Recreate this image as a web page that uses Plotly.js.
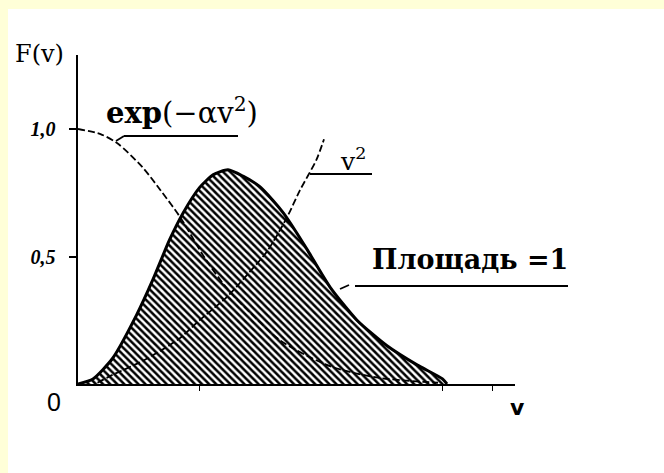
<!DOCTYPE html>
<html>
<head>
<meta charset="utf-8">
<script src="https://cdn.plot.ly/plotly-3.0.1.min.js"></script>
<style>
  html, body { margin: 0; padding: 0; background: #FFFFD8; }
  #chart { position: absolute; left: 8px; top: 9px; width: 656px; height: 464px; background: #ffffff; }
</style>
</head>
<body>
<div id="chart"></div>
<script>
// Maxwell speed distribution F(v) (hatched, area = 1)
const vMaxwell = [0, 0.10, 0.23, 0.39, 0.50, 0.61, 0.70, 0.81, 0.90, 1.00, 1.10, 1.21, 1.30, 1.37, 1.45, 1.53, 1.68, 1.86, 2.06, 2.26, 2.43, 2.46];
const fMaxwell = [0, 0.02, 0.10, 0.27, 0.41, 0.565, 0.67, 0.77, 0.82, 0.84, 0.815, 0.775, 0.72, 0.67, 0.60, 0.525, 0.38, 0.25, 0.15, 0.075, 0.02, 0];

// Gaussian factor exp(-αv²)
const vExp = [0, 0.15, 0.26, 0.43, 0.55, 0.68, 0.85, 1.00, 1.20, 1.35, 1.68, 2.00, 2.40];
const fExp = [1.0, 0.98, 0.945, 0.85, 0.76, 0.655, 0.49, 0.37, 0.25, 0.17, 0.07, 0.025, 0.005];

// Phase-space factor v²
const vSq = [0.13, 0.21, 0.43, 0.55, 0.68, 0.81, 0.99, 1.13, 1.26, 1.39, 1.48, 1.59, 1.64];
const fSq = [0.005, 0.03, 0.09, 0.13, 0.18, 0.25, 0.34, 0.43, 0.52, 0.65, 0.76, 0.88, 0.96];

// Axis ticks
const yTickVals = [0.5, 1.0];
const yTickText = ['0,5', '1,0'];
const xTickVals = [0.81, 2.43, 2.76];

// Plot frame in pixels of the chart div
const W = 656, H = 464;
const M = { l: 70, r: 149, t: 46, b: 89 };
const PW = W - M.l - M.r, PH = H - M.t - M.b;
// pixel position inside the div -> paper coordinates
const px = x => (x - M.l) / PW;
const py = y => (H - M.b - y) / PH;

const serif = 'DejaVu Serif, serif';

const traces = [
  {
    x: vMaxwell, y: fMaxwell, type: 'scatter', mode: 'lines',
    line: { color: '#000', width: 3, shape: 'spline', smoothing: 0.6 },
    fill: 'tozeroy', fillcolor: '#ffffff',
    fillpattern: { shape: '\\', fgcolor: '#000', bgcolor: '#ffffff', size: 5, solidity: 0.5 },
    hoverinfo: 'skip'
  },
  {
    x: vExp, y: fExp, type: 'scatter', mode: 'lines',
    line: { color: '#000', width: 1.8, dash: '7px,3px', shape: 'spline', smoothing: 0.8 },
    hoverinfo: 'skip'
  },
  {
    x: vSq, y: fSq, type: 'scatter', mode: 'lines',
    line: { color: '#000', width: 1.8, dash: '7px,3px', shape: 'spline', smoothing: 0.8 },
    hoverinfo: 'skip'
  }
];

const line = (x0, y0, x1, y1, w) => ({
  type: 'line', xref: 'paper', yref: 'paper',
  x0: px(x0), y0: py(y0), x1: px(x1), y1: py(y1),
  line: { color: '#000', width: w || 1.8 }
});

const note = (x, y, text, font) => ({
  xref: 'paper', yref: 'paper', x: px(x), y: py(y),
  xanchor: 'center', yanchor: 'middle', showarrow: false,
  text: text, font: Object.assign({ color: '#000' }, font)
});

const layout = {
  width: W, height: H,
  margin: M,
  paper_bgcolor: '#ffffff', plot_bgcolor: '#ffffff',
  showlegend: false,
  xaxis: {
    range: [0, PW / 150], showgrid: false, zeroline: false,
    showline: true, linecolor: '#000', linewidth: 2,
    tickmode: 'array', tickvals: xTickVals, showticklabels: false,
    ticks: 'outside', ticklen: 5, tickwidth: 1, tickcolor: '#000'
  },
  yaxis: {
    range: [0, PH / 255], showgrid: false, zeroline: false,
    showline: true, linecolor: '#000', linewidth: 2.5,
    tickmode: 'array', tickvals: yTickVals, ticktext: yTickText,
    ticks: 'outside', ticklen: 7, tickwidth: 2, tickcolor: '#000',
    ticklabelstandoff: 9,
    tickfont: { family: 'Liberation Serif, serif', size: 20, color: '#000', style: 'italic', weight: 'bold' }
  },
  shapes: [
    line(108, 132, 116, 127),
    line(116, 127, 230, 127),
    line(302, 165, 364, 165),
    line(332, 280, 341, 276),
    line(347, 277, 560, 277)
  ],
  annotations: [
    note(31, 45, 'F(v)', { family: serif, size: 24 }),
    note(46, 393, '0', { family: 'Liberation Sans, sans-serif', size: 25 }),
    note(509, 398, 'v', { family: 'DejaVu Sans, sans-serif', size: 22, weight: 'bold' }),
    note(174, 102, '<b>exp</b>(−αv<sup>2</sup>)', { family: serif, size: 29 }),
    note(345, 150, 'v<sup>2</sup>', { family: serif, size: 25 }),
    note(462, 250, '<b>Площадь =1</b>', { family: serif, size: 27 })
  ]
};

Plotly.newPlot('chart', traces, layout, { staticPlot: true, displayModeBar: false });
</script>
</body>
</html>
